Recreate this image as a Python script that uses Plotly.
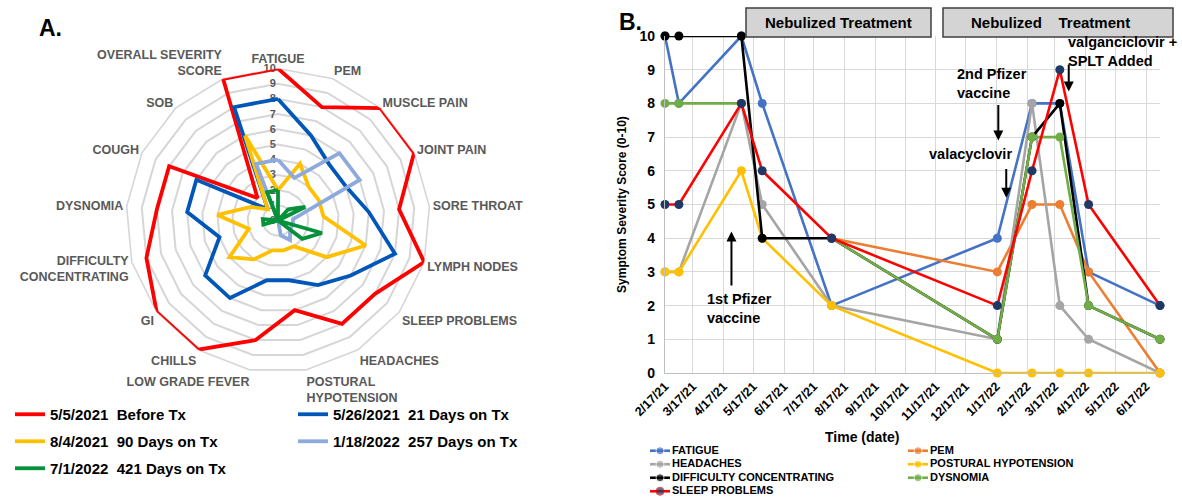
import plotly.graph_objects as go

W, H = 1182, 498
FONT = "Liberation Sans, Arial, sans-serif"

# ---------------- Panel A data (radar) ----------------
RADAR_CATS = ["FATIGUE", "PEM", "MUSCLE PAIN", "JOINT PAIN", "SORE THROAT", "LYMPH NODES",
              "SLEEP PROBLEMS", "HEADACHES", "POSTURAL<br>HYPOTENSION", "LOW GRADE FEVER",
              "CHILLS", "GI", "DIFFICULTY<br>CONCENTRATING", "DYSNOMIA", "COUGH", "SOB",
              "OVERALL SEVERITY<br>SCORE"]
R_2021_05_05 = [10, 8, 10, 10, 8, 10, 8, 8, 6, 8, 10, 10, 9, 8, 8, 2, 10]
R_2021_05_26 = [8, 6, 5, 5, 6, 8, 6, 5, 4, 4, 6, 6, 4, 6, 6, 1, 8]
R_2021_08_04 = [2, 4, 3, 3, 3, 6, 4, 2, 2, 2, 3, 4, 2, 4, 2, 1, 6]
R_2022_01_18 = [4, 3, 6, 6, 1, 1, 1, 1.5, 1, 0, 0, 0, 0, 0, 0, 0, 4]
R_2022_07_01 = [2, 0, 1, 2, 0, 3, 2, 0, 0, 0, 0, 0, 1, 1, 0, 0, 2]
RADAR_NAMES = ["5/5/2021\u00a0\u00a0Before Tx", "5/26/2021\u00a0\u00a021 Days on Tx",
               "8/4/2021\u00a0\u00a090 Days on Tx", "1/18/2022\u00a0\u00a0257 Days on Tx",
               "7/1/2022\u00a0\u00a0421 Days on Tx"]
RADAR_SERIES = [R_2021_05_05, R_2021_05_26, R_2021_08_04, R_2022_01_18, R_2022_07_01]
RADAR_COLORS = ["#FF0000", "#0057B8", "#FFC000", "#8EA9DB", "#05913A"]
RADAR_LEGENDS = ["legend", "legend2", "legend", "legend2", "legend"]

# ---------------- Panel B data (time series) ----------------
DATES = ["2021-02-17", "2021-03-03", "2021-05-05", "2021-05-26", "2021-08-04",
         "2022-01-18", "2022-02-22", "2022-03-22", "2022-04-20", "2022-07-01"]
FATIGUE = [10, 8, 10, 8, 2, 4, 8, 8, 3, 2]
PEM = [None, None, None, None, 4, 3, 5, 5, 3, 0]
HEADACHES = [3, 3, 8, 5, 2, 1, 8, 2, 1, 0]
POSTURAL_HYPOTENSION = [3, 3, 6, 4, 2, 0, 0, 0, 0, 0]
DIFFICULTY_CONCENTRATING = [10, 10, 10, 4, 4, 1, 7, 8, 2, 1]
DYSNOMIA = [8, 8, 8, None, 4, 1, 7, 7, 2, 1]
SLEEP_PROBLEMS = [5, 5, 8, 6, 4, 2, 6, 9, 5, 2]
LINE_NAMES = ["FATIGUE", "PEM", "HEADACHES", "POSTURAL HYPOTENSION",
              "DIFFICULTY CONCENTRATING", "DYSNOMIA", "SLEEP PROBLEMS"]
LINE_SERIES = [FATIGUE, PEM, HEADACHES, POSTURAL_HYPOTENSION,
               DIFFICULTY_CONCENTRATING, DYSNOMIA, SLEEP_PROBLEMS]
LINE_COLORS = ["#4472C4", "#ED7D31", "#A5A5A5", "#FFC000", "#000000", "#70AD47", "#FF0000"]
MARKER_COLORS = ["#4472C4", "#ED7D31", "#A5A5A5", "#FFC000", "#000000", "#70AD47", "#1F3864"]
TICK_DATES = ["2021-02-17", "2021-03-17", "2021-04-17", "2021-05-17", "2021-06-17",
              "2021-07-17", "2021-08-17", "2021-09-17", "2021-10-17", "2021-11-17",
              "2021-12-17", "2022-01-17", "2022-02-17", "2022-03-17", "2022-04-17",
              "2022-05-17", "2022-06-17"]
X_RANGE = ["2021-02-17", "2022-07-01"]

# event arrows: (date, tip value, tail value)
ARROWS = [("2021-04-25", 4.2, 2.55), ("2022-01-19", 6.9, 8.0),
          ("2022-01-27", 5.2, 6.1), ("2022-03-31", 8.35, 9.2)]


def px(x):
    return x / W


def py(y):
    return 1 - y / H


fig = go.Figure()

# ---- radar traces ----
for name, vals, col, lg in zip(RADAR_NAMES, RADAR_SERIES, RADAR_COLORS, RADAR_LEGENDS):
    fig.add_trace(go.Scatterpolar(
        r=vals + vals[:1], theta=RADAR_CATS + RADAR_CATS[:1], mode="lines",
        line=dict(color=col, width=3.8), name=name, legend=lg, legendgroup=name,
        showlegend=True, hoverinfo="skip"))

# ---- time series traces ----
for name, vals, lc, mc in zip(LINE_NAMES, LINE_SERIES, LINE_COLORS, MARKER_COLORS):
    fig.add_trace(go.Scatter(
        x=DATES, y=vals, mode="lines+markers", name=name, showlegend=False,
        line=dict(color=lc, width=2.6), marker=dict(color=mc, size=9),
        connectgaps=False, cliponaxis=False, xaxis="x", yaxis="y"))

# ---- custom compact legend for panel B (drawn on hidden axes) ----
COL_X = [20, 278]
for k, (name, lc, mc) in enumerate(zip(LINE_NAMES, LINE_COLORS, MARKER_COLORS)):
    cx = COL_X[k % 2]
    row = k // 2
    fig.add_trace(go.Scatter(
        x=[cx - 10, cx, cx + 10], y=[row] * 3, mode="lines+markers",
        line=dict(color=lc, width=2.6), marker=dict(color=mc, size=[0, 8, 0]),
        showlegend=False, hoverinfo="skip", xaxis="x2", yaxis="y2"))
    fig.add_trace(go.Scatter(
        x=[cx + 12], y=[row], mode="text", text=[name], textposition="middle right",
        textfont=dict(family=FONT, size=11, color="#000000", weight="bold"),
        showlegend=False, hoverinfo="skip", xaxis="x2", yaxis="y2"))

annotations = []
shapes = []


def label(text, x, y, size, xanchor="center", align="center"):
    return dict(text=text, x=px(x), y=py(y), xref="paper", yref="paper",
                xanchor=xanchor, yanchor="middle", align=align, showarrow=False,
                font=dict(size=size, color="#000000", family=FONT))


# panel letters
annotations.append(label("<b>A.</b>", 50, 28, 23))
annotations.append(label("<b>B.</b>", 630, 22, 23))

# nebulized treatment boxes
for (x0, x1, tx, txt) in [(746, 931, 838.5, "Nebulized Treatment"),
                          (943, 1173, 1050, "Nebulized\u00a0\u00a0\u00a0\u00a0Treatment")]:
    shapes.append(dict(type="rect", xref="paper", yref="paper", x0=px(x0), x1=px(x1),
                       y0=py(37), y1=py(8), fillcolor="#D4D4D4",
                       line=dict(color="#3F3F3F", width=1.5), layer="above"))
    annotations.append(label("<b>%s</b>" % txt, tx, 22.5, 15))

# event texts
for (txt, x, y) in [("1st Pfizer<br>vaccine", 705, 308), ("2nd Pfizer<br>vaccine", 955, 83.5),
                    ("valacyclovir", 927, 154), ("valganciclovir +<br>SPLT Added", 1066, 52)]:
    annotations.append(label("<b>%s</b>" % txt, x, y, 14.5, xanchor="left", align="left"))

for (d, tip, tail) in ARROWS:
    annotations.append(dict(text="", x=d, y=tip, ax=d, ay=tail, xref="x", yref="y",
                            axref="x", ayref="y", showarrow=True, arrowhead=2, arrowsize=1,
                            arrowwidth=2, arrowcolor="#000000", standoff=0, startstandoff=0))

# x-axis title
annotations.append(label("<b>Time (date)</b>", 862, 437, 14))

fig.update_layout(
    width=W, height=H, autosize=False,
    margin=dict(l=0, r=0, t=0, b=0, pad=0, autoexpand=False),
    paper_bgcolor="white", plot_bgcolor="white",
    font=dict(family=FONT, color="#000000"),
    polar=dict(
        domain=dict(x=[px(126), px(430)], y=[py(372.5), py(68.5)]),
        bgcolor="white", gridshape="linear",
        radialaxis=dict(range=[0, 10], dtick=1, angle=90, tickangle=90,
                        side="counterclockwise", showline=False, ticks="",
                        gridcolor="#D6D6D6", gridwidth=1.6, layer="below traces",
                        tickfont=dict(family=FONT, size=11, color="#595959", weight="bold")),
        angularaxis=dict(rotation=90, direction="clockwise", showgrid=False,
                         showline=True, linecolor="#D6D6D6", linewidth=1.6, ticks="",
                         layer="below traces",
                         tickfont=dict(family=FONT, size=12.5, color="#595959", weight="bold")),
    ),
    xaxis=dict(domain=[px(665), px(1160)], anchor="y", type="date", range=X_RANGE,
               tickmode="array", tickvals=TICK_DATES, tickformat="%-m/%-d/%y",
               tickangle=-45, showgrid=True, gridcolor="#D9D9D9", gridwidth=1.3,
               showline=True, linecolor="#BFBFBF", linewidth=1.3, zeroline=False,
               automargin=False,
               tickfont=dict(family=FONT, size=12.5, color="#000000", weight="bold")),
    yaxis=dict(domain=[py(373), py(36)], anchor="x", range=[0, 10], dtick=1,
               showgrid=True, gridcolor="#D9D9D9", gridwidth=1.3, zeroline=False,
               showline=True, linecolor="#BFBFBF", linewidth=1.3, ticklabelstandoff=6,
               automargin=False,
               tickfont=dict(family=FONT, size=14, color="#000000", weight="bold"),
               title=dict(text="<b>Symptom Severity Score (0-10)</b>", standoff=10,
                          font=dict(family=FONT, size=12, color="#000000"))),
    xaxis2=dict(domain=[px(640), 1.0], anchor="y2", range=[0, 542], visible=False,
                fixedrange=True),
    yaxis2=dict(domain=[0.0, 54 / H], anchor="x2", range=[3.5, -0.5], visible=False,
                fixedrange=True),
    legend=dict(x=px(10), y=py(398), xanchor="left", yanchor="top", orientation="v",
                bgcolor="rgba(0,0,0,0)", tracegroupgap=4.5,
                font=dict(family=FONT, size=15, color="#000000", weight="bold")),
    legend2=dict(x=px(293), y=py(398), xanchor="left", yanchor="top", orientation="v",
                 bgcolor="rgba(0,0,0,0)", tracegroupgap=4.5,
                 font=dict(family=FONT, size=15, color="#000000", weight="bold")),
    annotations=annotations,
    shapes=shapes,
)

fig.write_html("out.html", config={"displayModeBar": False},
               post_script="document.body.style.margin='0px';")
